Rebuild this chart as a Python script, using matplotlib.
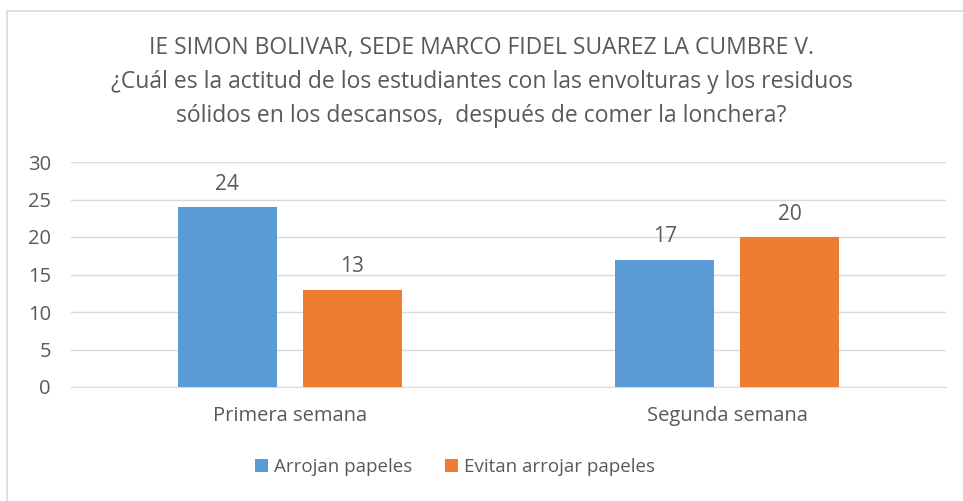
import matplotlib.pyplot as plt
import numpy as np
from matplotlib.patches import Rectangle

plt.rcParams['font.family'] = ['Open Sans', 'DejaVu Sans']

categories = ['Primera semana', 'Segunda semana']
series = ['Arrojan papeles', 'Evitan arrojar papeles']
arrojan = [24, 17]
evitan = [13, 20]
colors = ['#5B9BD5', '#ED7D31']
txt = '#595959'
title = ('IE SIMON BOLIVAR, SEDE MARCO FIDEL SUAREZ LA CUMBRE V.\n'
         '¿Cuál es la actitud de los estudiantes con las envolturas y los residuos\n'
         'sólidos en los descansos,  después de comer la lonchera?')

fig = plt.figure(figsize=(9.63, 5.01), dpi=100)
# light frame round the chart, as in the original
fig.patches.append(Rectangle((7 / 963, -0.1), 1.1, 1 - 11 / 501 + 0.1,
                             transform=fig.transFigure, fill=False,
                             edgecolor='#D9D9D9', linewidth=1.2))
ax = fig.add_axes([71 / 963, 1 - 387 / 501, 875 / 963, 225 / 501])

x = np.arange(len(categories))
w = 0.226
off = 0.143
for vals, name, c, dx in [(arrojan, series[0], colors[0], -off),
                          (evitan, series[1], colors[1], off)]:
    bars = ax.bar(x + dx, vals, w, color=c, label=name, zorder=3)
    ax.bar_label(bars, padding=9, fontsize=15, color=txt)

ax.set_xlim(-0.5, 1.5)
ax.set_ylim(0, 30)
ax.set_yticks(range(0, 31, 5))
ax.yaxis.grid(True, color='#D9D9D9', linewidth=1)
ax.set_xticks(x)
ax.set_xticklabels(categories)
ax.tick_params(length=0, labelsize=14.5, colors=txt)
ax.tick_params(axis='x', pad=14)
ax.tick_params(axis='y', pad=14.5)
for s in ['top', 'right', 'left']:
    ax.spines[s].set_visible(False)
ax.spines['bottom'].set_color('#D9D9D9')

fig.text(0.5, 1 - 82 / 501, title, ha='center', va='center', fontsize=16.5,
         color=txt, linespacing=1.56)

fig.legend(loc='center', bbox_to_anchor=(455 / 963, 1 - 467 / 501), ncol=2,
           frameon=False, fontsize=13.5, labelcolor=txt, handlelength=0.7,
           handleheight=0.7, handletextpad=0.3, columnspacing=1.75)

fig.savefig('out.png', dpi=100)
